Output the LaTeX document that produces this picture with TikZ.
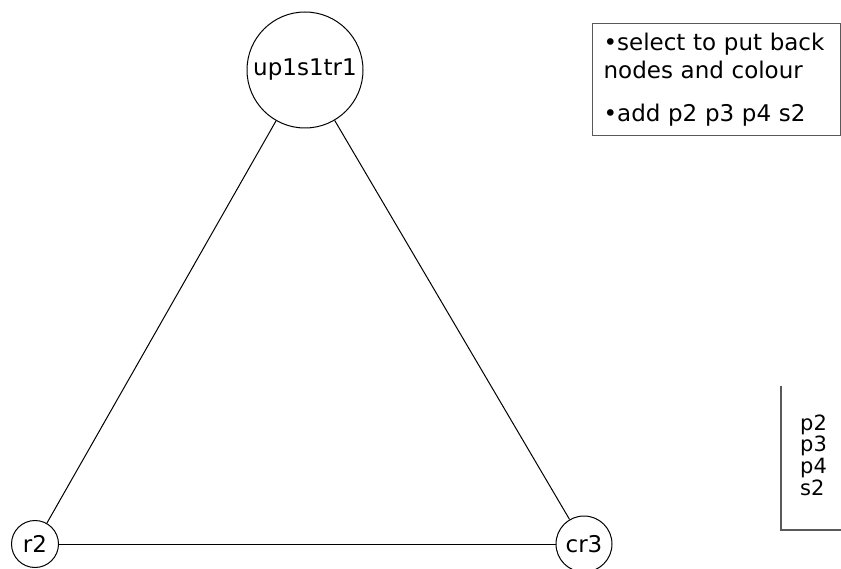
\documentclass[tikz,border=0pt]{standalone}
\usepackage{fontspec}
\setmainfont{DejaVu Sans}
\usetikzlibrary{positioning}

\tikzset{
    vertex/.style={draw, circle, inner sep=0pt, line width=1pt, font=\fontsize{23}{28}\selectfont},
    notebox/.style={draw=black!65, line width=1.2pt, align=left, anchor=north west, inner xsep=11pt,
        text width=226pt, minimum height=112pt, font=\fontsize{23}{28}\selectfont}
}

\begin{document}
\begin{tikzpicture}[x=1pt,y=-1pt]
    \useasboundingbox (0,0) rectangle (841,569);

    % Draw the nodes of the triangle
    \node[vertex, minimum size=116pt] (up) at (305,70) {up1s1tr1};
    \node[vertex, minimum size=47pt] (rtwo) at (35,544) {r2};
    \node[vertex, minimum size=56pt] (crthree) at (584,544) {cr3};

    % Draw the edges
    \draw[line width=1pt] (up) -- (rtwo);
    \draw[line width=1pt] (up) -- (crthree);
    \draw[line width=1pt] (rtwo) -- (crthree);

    % Note in the top right corner
    \node[notebox] (note) at (592,23) {•select to put back\\nodes and colour\\[15pt]•add p2 p3 p4 s2};

    % List of the nodes to add
    \draw[draw=black!65, line width=1.2pt] (781,386) -- (781,530) -- (841,530);
    \foreach \s [count=\i from 0] in {p2,p3,p4,s2} {
        % one entry of the list
        \node[anchor=base west, inner sep=0pt, font=\fontsize{21}{22}\selectfont] (item\i) at (800,430+21.7*\i) {\s};
    }
\end{tikzpicture}
\end{document}
